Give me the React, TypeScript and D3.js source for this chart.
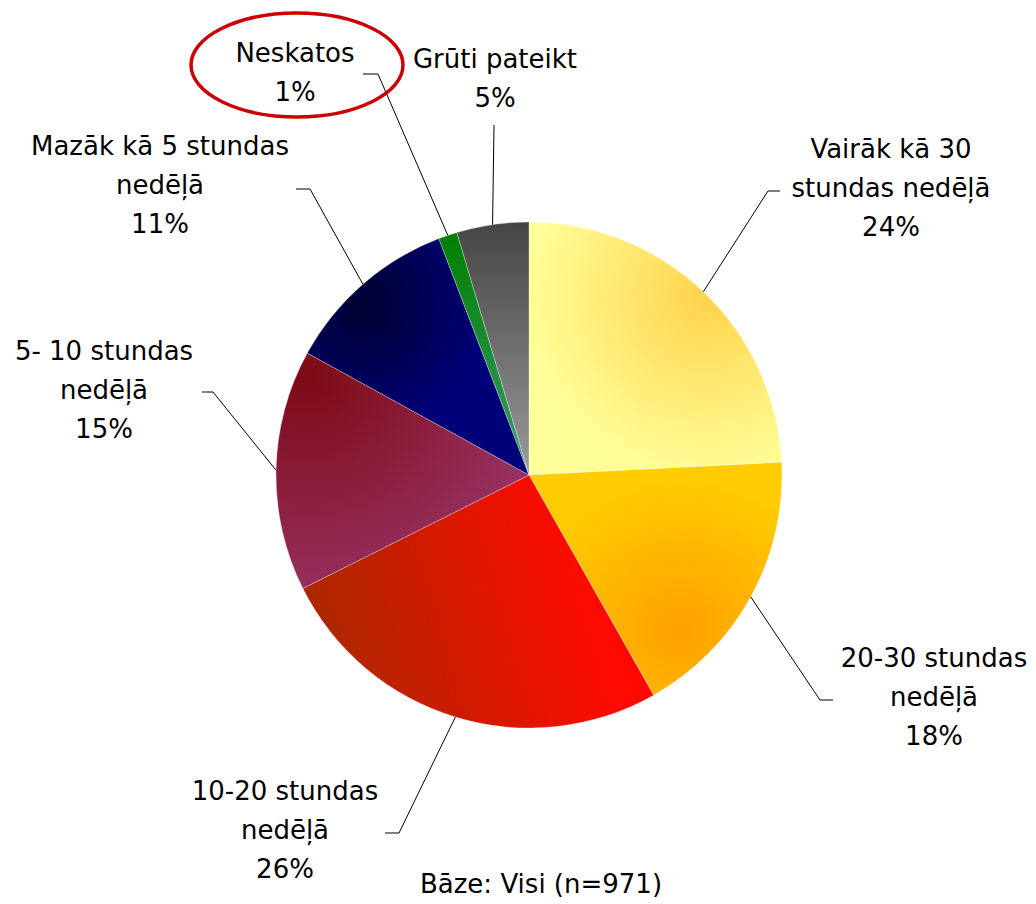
import * as d3 from 'd3';

// dati (procenti nolasīti no attēla)
const categories = [
  'Vairāk kā 30 stundas nedēļā',
  '20-30 stundas nedēļā',
  '10-20 stundas nedēļā',
  '5- 10 stundas nedēļā',
  'Mazāk kā 5 stundas nedēļā',
  'Neskatos',
  'Grūti pateikt',
];
const values = [24.2, 17.6, 25.8, 15.4, 11.2, 1.2, 4.6];
const labelLines = [
  ['Vairāk kā 30', 'stundas nedēļā'],
  ['20-30 stundas', 'nedēļā'],
  ['10-20 stundas', 'nedēļā'],
  ['5- 10 stundas', 'nedēļā'],
  ['Mazāk kā 5 stundas', 'nedēļā'],
  ['Neskatos'],
  ['Grūti pateikt'],
];
const baseNote = 'Bāze: Visi (n=971)';

// izkārtojums
const W = 1036;
const H = 904;
const cx = 529;
const cy = 475;
const R = 253;
const FONT = '"DejaVu Sans", Verdana, sans-serif';
const FS = 26;
const LH = 39;

// etiķešu novietojums: teksta centrs, pirmā bāzlīnija, līnijas lūzums, gals
const labelPos = [
  { x: 891, y: 158, elbow: [768, 191], end: [780, 191] },
  { x: 934, y: 667, elbow: [820, 700], end: [833, 700] },
  { x: 285, y: 800, elbow: [399, 833], end: [385, 833] },
  { x: 104, y: 360, elbow: [213, 392], end: [202, 392] },
  { x: 160, y: 155, elbow: [310, 189], end: [296, 189] },
  { x: 295, y: 62, elbow: [378, 74], end: [363, 74] },
  { x: 495, y: 68, elbow: [494, 125], end: null },
];

type Grad = {
  kind: 'linear' | 'radial';
  attrs: Record<string, string>;
  stops: [string, string][];
};

const grads: Grad[] = [
  { kind: 'radial', attrs: { cx: '0.7', cy: '0.3', r: '0.72' }, stops: [['0', '#FFD34C'], ['1', '#FFFF99']] },
  { kind: 'radial', attrs: { cx: '0.6', cy: '0.72', r: '0.65' }, stops: [['0', '#FFA000'], ['1', '#FFCC00']] },
  { kind: 'linear', attrs: { x1: '0', y1: '0.7', x2: '1', y2: '0.5' }, stops: [['0', '#A52A00'], ['0.85', '#FF0A00'], ['1', '#FF0000']] },
  { kind: 'radial', attrs: { cx: '0.12', cy: '0.1', r: '1' }, stops: [['0', '#7E0A14'], ['1', '#993366']] },
  { kind: 'radial', attrs: { cx: '0.25', cy: '0.28', r: '0.55' }, stops: [['0', '#000030'], ['1', '#000078']] },
  { kind: 'linear', attrs: { x1: '0', y1: '0', x2: '0', y2: '1' }, stops: [['0', '#008000'], ['1', '#3A9A70']] },
  { kind: 'linear', attrs: { x1: '0', y1: '0', x2: '0', y2: '1' }, stops: [['0', '#454545'], ['1', '#9A9A9A']] },
];

export default function App() {
  const pie = d3.pie<number>().sort(null).value((d) => d);
  const arcs = pie(values);
  const arc = d3.arc<d3.PieArcDatum<number>>().innerRadius(0).outerRadius(R);
  const edge = d3.arc<d3.PieArcDatum<number>>().innerRadius(R).outerRadius(R);

  return (
    <svg
      width={W}
      height={H}
      style={{ position: 'absolute', left: 0, top: 0, background: '#fff' }}
      fontFamily={FONT}
    >
      <defs>
        {grads.map((g, i) =>
          g.kind === 'linear' ? (
            <linearGradient key={i} id={`g${i}`} {...g.attrs}>
              {g.stops.map(([o, c]) => (
                <stop key={o} offset={o} stopColor={c} />
              ))}
            </linearGradient>
          ) : (
            <radialGradient key={i} id={`g${i}`} {...g.attrs}>
              {g.stops.map(([o, c]) => (
                <stop key={o} offset={o} stopColor={c} />
              ))}
            </radialGradient>
          )
        )}
      </defs>

      <g transform={`translate(${cx},${cy})`}>
        {arcs.map((a, i) => (
          <path
            key={categories[i]}
            d={arc(a) || ''}
            fill={`url(#g${i})`}
            stroke="#ffffff"
            strokeOpacity={0.5}
            strokeWidth={0.6}
          />
        ))}
      </g>

      {/* vadlīnijas */}
      {arcs.map((a, i) => {
        const [px, py] = edge.centroid(a);
        const p = labelPos[i];
        const pts: number[][] = [[cx + px, cy + py], p.elbow];
        if (p.end) pts.push(p.end);
        return (
          <polyline
            key={'l' + i}
            points={pts.map((q) => q.join(',')).join(' ')}
            fill="none"
            stroke="#000"
            strokeWidth={1}
          />
        );
      })}

      {/* etiķetes */}
      {arcs.map((a, i) => {
        const p = labelPos[i];
        const lines = [...labelLines[i], `${Math.round(values[i])}%`];
        return (
          <text key={'t' + i} x={p.x} y={p.y} textAnchor="middle" fontSize={FS} fill="#000">
            {lines.map((s, j) => (
              <tspan key={j} x={p.x} y={p.y + j * LH}>
                {s}
              </tspan>
            ))}
          </text>
        );
      })}

      {/* izcelta "Neskatos" */}
      <ellipse cx={297} cy={65} rx={106} ry={52} fill="none" stroke="#CC0000" strokeWidth={3.5} />

      <text x={541} y={893} textAnchor="middle" fontSize={FS} fill="#000">
        {baseNote}
      </text>
    </svg>
  );
}
